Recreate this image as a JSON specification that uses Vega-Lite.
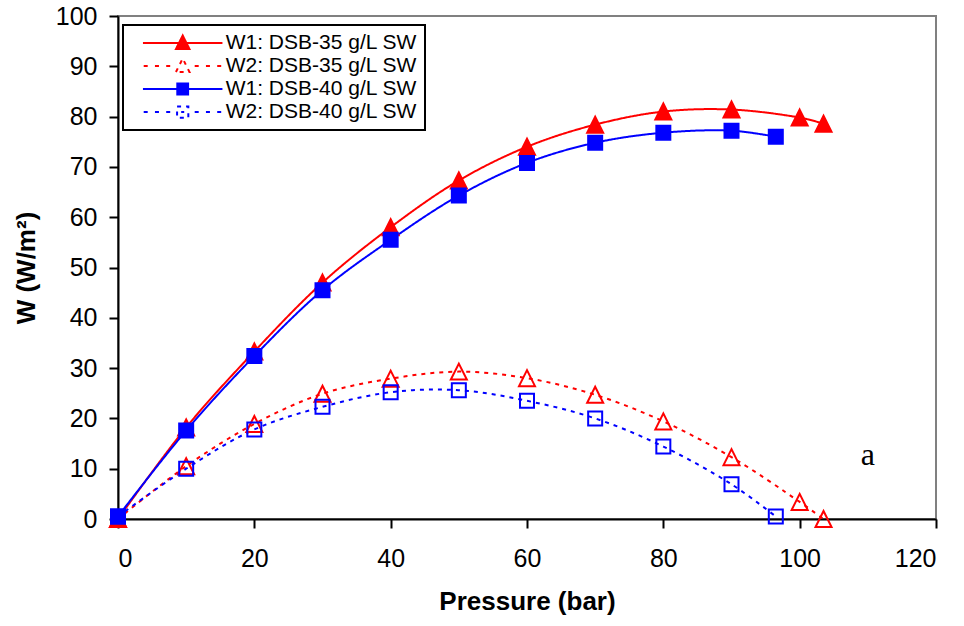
{
  "$schema": "https://vega.github.io/schema/vega-lite/v6.json",
  "width": 818,
  "height": 503,
  "autosize": "none",
  "padding": {"left": 118, "top": 16, "right": 28, "bottom": 107},
  "background": "white",
  "config": {
    "view": {"stroke": "#808080", "strokeWidth": 2},
    "font": "Liberation Sans",
    "axis": {
      "grid": false,
      "domainColor": "black",
      "domainWidth": 2,
      "tickColor": "black",
      "tickWidth": 2,
      "tickSize": 9,
      "labelFont": "Liberation Sans",
      "labelFontSize": 25,
      "labelColor": "black",
      "titleFont": "Liberation Sans",
      "titleFontSize": 26,
      "titleFontWeight": "bold",
      "titleColor": "black"
    }
  },
  "datasets": {
    "main": [
      {"series": "W1: DSB-35 g/L SW", "pressure": 0, "W": 0},
      {"series": "W1: DSB-35 g/L SW", "pressure": 10, "W": 18.2},
      {"series": "W1: DSB-35 g/L SW", "pressure": 20, "W": 33.3},
      {"series": "W1: DSB-35 g/L SW", "pressure": 30, "W": 47},
      {"series": "W1: DSB-35 g/L SW", "pressure": 40, "W": 58},
      {"series": "W1: DSB-35 g/L SW", "pressure": 50, "W": 67.3},
      {"series": "W1: DSB-35 g/L SW", "pressure": 60, "W": 74},
      {"series": "W1: DSB-35 g/L SW", "pressure": 70, "W": 78.4},
      {"series": "W1: DSB-35 g/L SW", "pressure": 80, "W": 81},
      {"series": "W1: DSB-35 g/L SW", "pressure": 90, "W": 81.4},
      {"series": "W1: DSB-35 g/L SW", "pressure": 100, "W": 79.8},
      {"series": "W1: DSB-35 g/L SW", "pressure": 103.5, "W": 78.6},
      {"series": "W2: DSB-35 g/L SW", "pressure": 0, "W": 0},
      {"series": "W2: DSB-35 g/L SW", "pressure": 10, "W": 10.5},
      {"series": "W2: DSB-35 g/L SW", "pressure": 20, "W": 18.9},
      {"series": "W2: DSB-35 g/L SW", "pressure": 30, "W": 24.9},
      {"series": "W2: DSB-35 g/L SW", "pressure": 40, "W": 27.9},
      {"series": "W2: DSB-35 g/L SW", "pressure": 50, "W": 29.3},
      {"series": "W2: DSB-35 g/L SW", "pressure": 60, "W": 28},
      {"series": "W2: DSB-35 g/L SW", "pressure": 70, "W": 24.7},
      {"series": "W2: DSB-35 g/L SW", "pressure": 80, "W": 19.4},
      {"series": "W2: DSB-35 g/L SW", "pressure": 90, "W": 12.3},
      {"series": "W2: DSB-35 g/L SW", "pressure": 100, "W": 3.4},
      {"series": "W2: DSB-35 g/L SW", "pressure": 103.5, "W": 0},
      {"series": "W1: DSB-40 g/L SW", "pressure": 0, "W": 0.5},
      {"series": "W1: DSB-40 g/L SW", "pressure": 10, "W": 17.6},
      {"series": "W1: DSB-40 g/L SW", "pressure": 20, "W": 32.4},
      {"series": "W1: DSB-40 g/L SW", "pressure": 30, "W": 45.5},
      {"series": "W1: DSB-40 g/L SW", "pressure": 40, "W": 55.5},
      {"series": "W1: DSB-40 g/L SW", "pressure": 50, "W": 64.3},
      {"series": "W1: DSB-40 g/L SW", "pressure": 60, "W": 70.8},
      {"series": "W1: DSB-40 g/L SW", "pressure": 70, "W": 74.8},
      {"series": "W1: DSB-40 g/L SW", "pressure": 80, "W": 76.8},
      {"series": "W1: DSB-40 g/L SW", "pressure": 90, "W": 77.2},
      {"series": "W1: DSB-40 g/L SW", "pressure": 96.5, "W": 76},
      {"series": "W2: DSB-40 g/L SW", "pressure": 0, "W": 0.5},
      {"series": "W2: DSB-40 g/L SW", "pressure": 10, "W": 10},
      {"series": "W2: DSB-40 g/L SW", "pressure": 20, "W": 17.8},
      {"series": "W2: DSB-40 g/L SW", "pressure": 30, "W": 22.3},
      {"series": "W2: DSB-40 g/L SW", "pressure": 40, "W": 25.2},
      {"series": "W2: DSB-40 g/L SW", "pressure": 50, "W": 25.6},
      {"series": "W2: DSB-40 g/L SW", "pressure": 60, "W": 23.5},
      {"series": "W2: DSB-40 g/L SW", "pressure": 70, "W": 20},
      {"series": "W2: DSB-40 g/L SW", "pressure": 80, "W": 14.4},
      {"series": "W2: DSB-40 g/L SW", "pressure": 90, "W": 6.9},
      {"series": "W2: DSB-40 g/L SW", "pressure": 96.5, "W": 0.5}
    ],
    "note": [{"label": "a", "pressure": 110, "W": 10.7}]
  },
  "data": {"name": "main"},
  "encoding": {
    "x": {
      "field": "pressure",
      "type": "quantitative",
      "scale": {"domain": [0, 120], "nice": false},
      "axis": {"values": [0, 20, 40, 60, 80, 100, 120], "title": "Pressure (bar)", "labelPadding": 18, "titlePadding": 17}
    },
    "y": {
      "field": "W",
      "type": "quantitative",
      "scale": {"domain": [0, 100], "nice": false},
      "axis": {"values": [0, 10, 20, 30, 40, 50, 60, 70, 80, 90, 100], "title": "W (W/m²)", "labelPadding": 12, "titlePadding": 16}
    },
    "color": {
      "field": "series",
      "type": "nominal",
      "scale": {
        "domain": ["W1: DSB-35 g/L SW", "W2: DSB-35 g/L SW", "W1: DSB-40 g/L SW", "W2: DSB-40 g/L SW"],
        "range": ["#ff0000", "#ff0000", "#0000ff", "#0000ff"]
      },
      "legend": {
        "title": null,
        "orient": "none",
        "legendX": 5,
        "legendY": 9,
        "padding": 7.5,
        "rowPadding": 1,
        "strokeColor": "black",
        "fillColor": "white",
        "cornerRadius": 0,
        "symbolSize": 225,
        "symbolStrokeWidth": 2,
        "symbolOffset": 41.7,
        "labelOffset": 32.5,
        "labelFont": "Liberation Sans",
        "labelFontSize": 21,
        "labelColor": "black",
        "labelLimit": 400,
        "encode": {
          "legend": {"update": {"strokeWidth": {"value": 2}}},
          "symbols": {
            "update": {
              "shape": {"signal": "datum.value === 'W1: DSB-35 g/L SW' ? 'M-5.3,0H5.3M-0.9,0.8L0,-1L0.9,0.8Z' : datum.value === 'W2: DSB-35 g/L SW' ? 'M-5.2,0H-4.6M-3.7,0H-3.1M-2.2,0H-1.6M1.6,0H2.2M3.1,0H3.7M4.6,0H5.2M-0.9,0.8L0,-1L0.9,0.8Z' : datum.value === 'W1: DSB-40 g/L SW' ? 'M-5.3,0H5.3M-0.72,-0.72H0.72V0.72H-0.72Z' : 'M-5.2,0H-4.6M-3.7,0H-3.1M-2.2,0H-1.6M1.6,0H2.2M3.1,0H3.7M4.6,0H5.2M-0.75,-0.75H0.75V0.75H-0.75ZM-0.2,0H0.2'"},
              "fill": {"signal": "indexof(datum.value, 'W1') === 0 ? (indexof(datum.value, '35') > 0 ? '#ff0000' : '#0000ff') : 'white'"},
              "stroke": {"signal": "indexof(datum.value, '35') > 0 ? '#ff0000' : '#0000ff'"},
              "size": {"value": 225},
              "strokeWidth": {"value": 2},
              "strokeDash": {"value": [1, 0]},
              "opacity": {"value": 1},
              "fillOpacity": {"value": 1},
              "strokeOpacity": {"value": 1}
            }
          }
        }
      }
    }
  },
  "layer": [
    {
      "mark": {"type": "line", "interpolate": "catmull-rom", "strokeWidth": 2},
      "encoding": {
        "strokeDash": {
          "field": "series",
          "type": "nominal",
          "scale": {
            "domain": ["W1: DSB-35 g/L SW", "W2: DSB-35 g/L SW", "W1: DSB-40 g/L SW", "W2: DSB-40 g/L SW"],
            "range": [[1, 0], [4, 5], [1, 0], [4, 5]]
          },
          "legend": null
        }
      }
    },
    {
      "transform": [{"filter": "indexof(datum.series, 'DSB-35') >= 0"}],
      "mark": {"type": "point", "shape": "M0,-1L1,1L-1,1Z", "size": 256, "strokeWidth": 2, "opacity": 1},
      "encoding": {
        "fill": {
          "field": "series",
          "type": "nominal",
          "scale": {
            "domain": ["W1: DSB-35 g/L SW", "W2: DSB-35 g/L SW", "W1: DSB-40 g/L SW", "W2: DSB-40 g/L SW"],
            "range": ["#ff0000", "transparent", "#0000ff", "transparent"]
          },
          "legend": null
        }
      }
    },
    {
      "transform": [{"filter": "indexof(datum.series, 'DSB-40') >= 0"}],
      "mark": {"type": "point", "shape": "square", "size": 196, "strokeWidth": 2, "opacity": 1},
      "encoding": {
        "fill": {
          "field": "series",
          "type": "nominal",
          "scale": {
            "domain": ["W1: DSB-35 g/L SW", "W2: DSB-35 g/L SW", "W1: DSB-40 g/L SW", "W2: DSB-40 g/L SW"],
            "range": ["#ff0000", "transparent", "#0000ff", "transparent"]
          },
          "legend": null
        }
      }
    },
    {
      "data": {"name": "note"},
      "mark": {"type": "text", "font": "Liberation Serif", "fontSize": 32, "baseline": "alphabetic", "align": "center"},
      "encoding": {
        "text": {"field": "label", "type": "nominal"},
        "color": {"value": "black"}
      }
    }
  ]
}
